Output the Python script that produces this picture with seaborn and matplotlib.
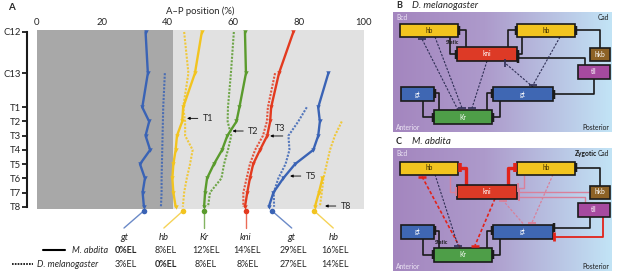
import numpy as np
import pandas as pd
import seaborn as sns
import matplotlib.pyplot as plt
from matplotlib.colors import LinearSegmentedColormap
from matplotlib.patches import Rectangle

# ---- Panel A data: boundary A-P position (%) per segment row ----
rows = ['C12', 'C13', 'T1', 'T2', 'T3', 'T4', 'T5', 'T6', 'T7', 'T8']
row_y = [0, 2.9, 5.3, 6.3, 7.3, 8.3, 9.3, 10.3, 11.3, 12.3]

nan = np.nan
gt_ant_ma = [33.2, 33.9, 32.2, 34.3, 33.2, 34.6, 31.5, 33.0, 32.3, 32.7]
gt_ant_dm = [nan, 39.1, 38.6, 38.5, 38.4, 38.3, 38.2, 38.1, 38.1, 37.9]
hb_ant_ma = [50.4, 48.3, 44.7, 44.4, 42.8, 42.4, 41.7, 41.4, 41.7, 42.4]
hb_ant_dm = [45.0, 46.3, 44.7, 45.3, 45.3, 47.6, 46.8, 45.8, 45.0, 44.6]
kr_ma = [63.6, 63.9, 61.9, 61.0, 58.2, 56.6, 54.1, 52.0, 51.4, 51.1]
kr_dm = [60.2, 59.3, 58.4, 58.3, 59.4, 58.4, 57.2, 56.4, 52.9, 52.3]
kni_ma = [78.4, 74.0, 71.6, 71.3, 70.4, 68.2, 66.1, 65.1, 64.3, 63.6]
kni_dm = [nan, 72.8, 70.6, 70.3, 69.1, 66.7, 65.1, 64.1, 63.1, 63.1]
gt_post_ma = [nan, 89.1, 86.0, 86.5, 86.0, 84.5, 78.9, 75.3, 72.3, 70.9]
gt_post_dm = [nan, nan, 82.5, 79.9, 76.9, 77.2, 76.0, 73.8, 72.4, 72.5]
hb_post_ma = [nan, nan, nan, nan, nan, nan, nan, 87.3, 86.2, 85.0]
hb_post_dm = [nan, nan, nan, 93.2, 91.1, 89.6, 88.6, 87.6, 87.1, 86.5]

genes = ['gt', 'hb', 'Kr', 'kni', 'gt', 'hb']
shift_ma = ['0%EL', '8%EL', '12%EL', '14%EL', '29%EL', '16%EL']
shift_dm = ['3%EL', '0%EL', '8%EL', '8%EL', '27%EL', '14%EL']
boundary_x = [32.6, 44.6, 51.1, 63.8, 71.9, 84.8]
label_x = [26.6, 38.8, 51.1, 63.8, 77.9, 90.6]

# arrows: (label, arrow head x, y)
arrow_marks = [('T1', 45.9, 6.08), ('T2', 59.8, 6.97), ('T5', 77.4, 10.14), ('T8', 88.1, 12.25)]

gene_colors = ['#3a63b5', '#f2c41f', '#5a9b2d', '#e33a1f', '#3a63b5', '#f2c41f']

series = [(gt_ant_ma, gt_ant_dm), (hb_ant_ma, hb_ant_dm), (kr_ma, kr_dm),
          (kni_ma, kni_dm), (gt_post_ma, gt_post_dm), (hb_post_ma, hb_post_dm)]
records = []
for i, (ma, dm) in enumerate(series):
    for sp, vals in (('M. abdita', ma), ('D. melanogaster', dm)):
        for r, y, v in zip(rows, row_y, vals):
            records.append(dict(boundary=i, species=sp, row=r, y=y, pos=v))
df = pd.DataFrame(records).dropna()

sns.set_style('white')
plt.rcParams['font.family'] = ['Lato', 'DejaVu Sans']

fig = plt.figure(figsize=(6.17, 2.71), dpi=100)
W, H = 617, 271

# overlay in pixel coordinates for panels B and C
ov = fig.add_axes([0, 0, 1, 1])
ov.axis('off')

ax = fig.add_axes([37 / W, 1 - 209 / H, (364 - 37) / W, (209 - 30) / H])
ax.set_facecolor('#e1e1e1')
ax.axvspan(0, 41.6, color='#a8a8a8', lw=0, zorder=0)

for i in range(len(series)):
    sub = df[df.boundary == i]
    c = gene_colors[i]
    ma = sub[sub.species == 'M. abdita']
    dm = sub[sub.species == 'D. melanogaster']
    sns.lineplot(data=dm, x='pos', y='y', orient='y', estimator=None, ax=ax,
                 color=c, lw=1.5, linestyle=(0, (1, 0.7)), alpha=0.85)
    sns.lineplot(data=ma, x='pos', y='y', orient='y', estimator=None, ax=ax,
                 color=c, lw=1.7, marker='v', markersize=3.2, markeredgewidth=0)

ax.set_xlim(0, 100)
ax.set_ylim(12.46, -0.14)
ax.xaxis.tick_top()
ax.xaxis.set_label_position('top')
ax.set_xticks([0, 20, 40, 60, 80, 100])
ax.set_xlabel('A\u2013P position (%)', fontsize=6.8, labelpad=3)
ax.set_ylabel('')
ax.set_yticks(row_y, rows)
ax.tick_params(axis='x', length=0, pad=2, labelsize=6.8)
ax.tick_params(axis='y', length=3.6, width=1.3, pad=1, labelsize=6.8, left=True, color='#1a1a1a')
sns.despine(ax=ax, bottom=True, offset={'left': 7})
ax.spines['left'].set_bounds(0, 12.3)
ax.spines['left'].set_linewidth(1.5)
ax.spines['left'].set_color('#1a1a1a')

# boundary markers, connectors and labels below
for i, g in enumerate(genes):
    c = gene_colors[i]
    ax.plot([boundary_x[i], label_x[i]], [12.6, 13.8], color=c, lw=1, alpha=0.75, clip_on=False)
    ax.scatter([boundary_x[i]], [12.6], s=16, color=c, lw=0, clip_on=False, zorder=5)
    ax.text(label_x[i], 14.5, g, style='italic', ha='center', va='center', fontsize=6.8)
    ax.text(label_x[i] + 0.5, 15.38, shift_ma[i], ha='center', va='center', fontsize=6.5,
            fontweight='bold' if shift_ma[i].startswith('0') else 'normal')
    ax.text(label_x[i] + 0.5, 16.35, shift_dm[i], ha='center', va='center', fontsize=6.5,
            fontweight='bold' if shift_dm[i].startswith('0') else 'normal')

ax.plot([1.8, 8.6], [15.38, 15.38], color='k', lw=1.5, clip_on=False)
ax.text(10.6, 15.38, 'M. abdita', style='italic', ha='left', va='center', fontsize=6.5)
ax.plot([-7.6, -1.2], [16.35, 16.35], color='k', lw=1.2, ls=(0, (1, 0.7)), clip_on=False)
ax.text(-0.1, 16.35, 'D. melanogaster', style='italic', ha='left', va='center', fontsize=6.5)

arrow_kw = dict(arrowstyle='-|>', lw=0.6, color='k', mutation_scale=4, shrinkA=1, shrinkB=0)
for lab, hx, hy in arrow_marks:
    ax.annotate(lab, xy=(hx, hy), xytext=(hx + 4.7, hy), ha='left', va='center',
                fontsize=6.5, arrowprops=arrow_kw)
ax.annotate('', xy=(71.3, 7.32), xytext=(75.6, 7.32), arrowprops=arrow_kw)
ax.text(74.3, 6.78, 'T3', ha='center', va='center', fontsize=6.5)

fig.text(8 / W, 1 - 8 / H, 'A', fontsize=7, fontweight='bold', ha='left', va='center')

# ---- Panels B and C: regulatory network diagrams ----
ov.set_xlim(0, W)
ov.set_ylim(H, 0)
bg = LinearSegmentedColormap.from_list('bg', [(0, '#a486bf'), (0.42, '#ad9acb'), (1, '#c2e4f6')])
grad = np.linspace(0, 1, 256)[None, :]
for top, bot in ((12, 132), (148, 271)):
    ov.imshow(grad, cmap=bg, extent=(393, 612, bot, top), aspect='auto', zorder=0)
ov.set_xlim(0, W)
ov.set_ylim(H, 0)

boxes = {
    'hbL': (400, 24, 458, 37, '#f2c41f', 'hb', '#3a2a00'),
    'hbR': (517, 24, 575, 37, '#f2c41f', 'hb', '#3a2a00'),
    'kni': (457, 47, 517, 61, '#dd3a26', 'kni', 'white'),
    'hkb': (590, 48, 610, 61, '#8d6226', 'hkb', 'white'),
    'tll': (578, 65, 610, 79, '#a64a9f', 'tll', 'white'),
    'gtL': (401, 87, 434, 101, '#3f67b3', 'gt', 'white'),
    'gtR': (493, 87, 553, 101, '#3f67b3', 'gt', 'white'),
    'Kr': (434, 110, 492, 124, '#4e9e48', 'Kr', 'white'),
}

BLACK = '#1a1a1a'
DARK = '#2f2f55'
RED = '#e2231a'
PINK = '#d9809a'
DASH = (0, (2, 1.3))


def inhibit(pts, dy, color=BLACK, lw=1.2, ls='-', bar=4.5, blw=None):
    xs = [p[0] for p in pts]
    ys = [p[1] + dy for p in pts]
    ov.plot(xs, ys, color=color, lw=lw, ls=ls, solid_capstyle='butt', zorder=3)
    x1, y1, x2, y2 = xs[-2], ys[-2], xs[-1], ys[-1]
    blw = blw or max(lw * 1.5, 1.4)
    if abs(x2 - x1) > abs(y2 - y1):
        ov.plot([x2, x2], [y2 - bar, y2 + bar], color=color, lw=blw, solid_capstyle='butt', zorder=5)
    else:
        ov.plot([x2 - bar, x2 + bar], [y2, y2], color=color, lw=blw, solid_capstyle='butt', zorder=5)


def draw_boxes(dy):
    for x0, y0, x1, y1, fc, lab, tc in boxes.values():
        ov.add_patch(Rectangle((x0, y0 + dy), x1 - x0, y1 - y0, fc=fc, ec=BLACK, lw=1.2, zorder=4))
        ov.text((x0 + x1) / 2, (y0 + y1) / 2 + dy, lab, color=tc, fontsize=4.8,
                ha='center', va='center', zorder=6)


# panel B (D. melanogaster)
dy = 0
for pts in ([(466, 47), (466, 30), (459, 30)], [(450, 37), (450, 54), (456, 54)],
            [(508, 47), (508, 30), (516, 30)], [(522, 37), (522, 54), (518, 54)],
            [(600, 48), (600, 30), (576, 30)], [(585, 65), (585, 58), (518, 58)],
            [(594, 79), (594, 94), (554, 94)], [(439, 110), (439, 93), (435, 93)],
            [(423, 101), (423, 117), (433, 117)], [(487, 110), (487, 93), (492, 93)],
            [(500, 101), (500, 117), (493, 117)]):
    inhibit(pts, dy)
for pts in ([(458, 110), (422, 39)], [(435, 37), (462, 108)], [(487, 61), (472, 108)],
            [(533, 87), (505, 63)], [(560, 37), (533, 85)]):
    inhibit(pts, dy, color=DARK, lw=0.8, ls=DASH, bar=4, blw=1.2)
draw_boxes(dy)
ov.text(453, 42.5, 'Static', fontsize=3.8, fontweight='bold', color=BLACK, ha='center', va='center')
ov.text(396, 17, 'Bcd', fontsize=4.8, color='#ece4f4', ha='left', va='center')
ov.text(609, 17, 'Cad', fontsize=4.8, color=BLACK, ha='right', va='center')
ov.text(396, 127, 'Anterior', fontsize=4.8, color='#ece4f4', ha='left', va='center')
ov.text(609, 127, 'Posterior', fontsize=4.8, color=BLACK, ha='right', va='center')
ov.text(396, 5.5, 'B', fontsize=6.5, fontweight='bold', ha='left', va='center')
ov.text(412, 5.5, 'D. melanogaster', fontsize=7, style='italic', ha='left', va='center')

# panel C (M. abdita)
dy = 137.5
inhibit([(466, 47), (466, 30), (460, 30)], dy, color=RED, lw=2.4, blw=2.6)
inhibit([(508, 47), (508, 30), (515, 30)], dy, color=RED, lw=2.4, blw=2.6)
for pts in ([(450, 37), (450, 54), (456, 54)], [(524, 37), (524, 50), (518, 50)],
            [(590, 54.5), (519, 54.5)], [(585, 65), (585, 59), (519, 59)]):
    inhibit(pts, dy, color=PINK, lw=1.0, blw=1.4)
for pts in ([(600, 48), (600, 30), (576, 30)], [(590, 79), (590, 90), (554, 90)],
            [(439, 110), (439, 93), (435, 93)], [(423, 101), (423, 117), (433, 117)],
            [(487, 110), (487, 93), (492, 93)], [(500, 101), (500, 117), (493, 117)]):
    inhibit(pts, dy)
inhibit([(603, 79), (603, 99), (554, 99)], dy, color=RED, lw=1.3, blw=2)
inhibit([(460, 110), (422, 39)], dy, color=RED, lw=1.2, ls=DASH, bar=4, blw=1.8)
inhibit([(435, 37), (458, 108)], dy, color=DARK, lw=0.8, ls=DASH, bar=4, blw=1.2)
inhibit([(495, 61), (475, 108)], dy, color=RED, lw=1.2, ls=DASH, bar=4, blw=1.8)
inhibit([(523, 86), (503, 63)], dy, color=PINK, lw=0.9, ls=DASH, bar=4, blw=1.3)
inhibit([(553, 37), (532, 85)], dy, color=PINK, lw=0.9, ls=DASH, bar=4, blw=1.3)
draw_boxes(dy)
ov.text(442, 242, 'Static', fontsize=3.8, fontweight='bold', color=BLACK, ha='center', va='center')
ov.text(396, 153.5, 'Bcd', fontsize=4.8, color='#ece4f4', ha='left', va='center')
ov.text(609, 153.5, 'Cad', fontsize=4.8, color=BLACK, ha='right', va='center')
ov.text(597.5, 153.5, 'Zygotic', fontsize=4.8, fontweight='bold', color=BLACK, ha='right', va='center')
ov.text(396, 266.5, 'Anterior', fontsize=4.8, color='#ece4f4', ha='left', va='center')
ov.text(609, 266.5, 'Posterior', fontsize=4.8, color=BLACK, ha='right', va='center')
ov.text(396, 141, 'C', fontsize=6.5, fontweight='bold', ha='left', va='center')
ov.text(412, 141, 'M. abdita', fontsize=7, style='italic', ha='left', va='center')

fig.savefig('out.png', dpi=100, facecolor='white')
